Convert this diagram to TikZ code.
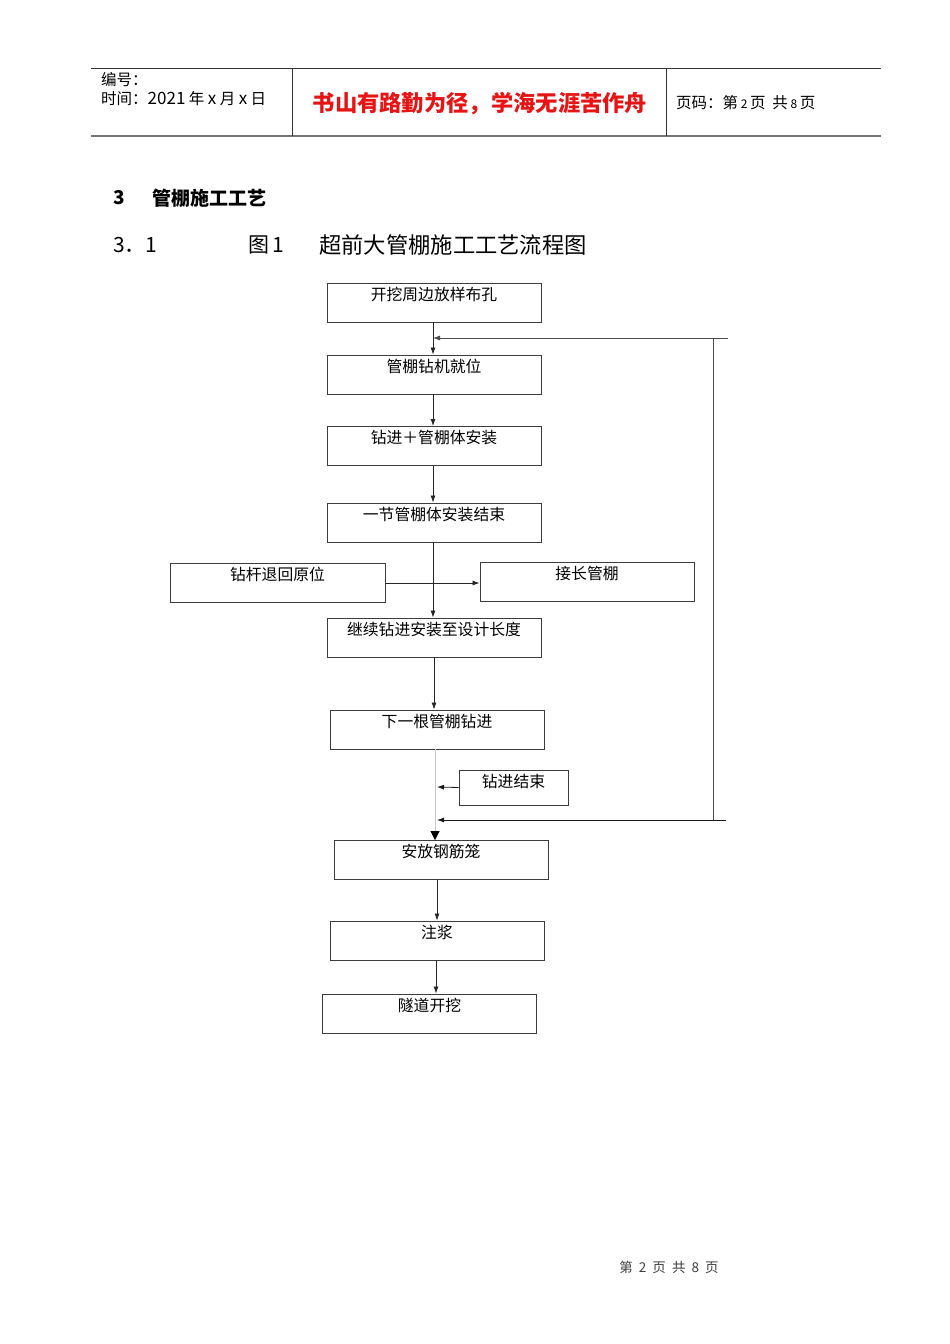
\documentclass[tikz,border=0pt]{standalone}
\usepackage{fontspec}
\setmainfont{Noto Sans CJK SC}
\newfontfamily\cjk{Noto Sans CJK SC}
\usetikzlibrary{arrows.meta}
\definecolor{redtxt}{RGB}{230,20,20}
\definecolor{boxline}{RGB}{60,60,60}
\tikzset{
  box/.style={draw=boxline, line width=0.9pt, minimum width=214pt, minimum height=39pt, inner sep=0pt},
  bl/.style={anchor=north, yshift=-4pt, inner sep=0pt, font=\fontsize{15.8}{17}\selectfont},
  tip/.style={-{Latex[length=7pt,width=5pt]}},
  flow/.style={draw=black!85, line width=0.8pt, tip},
  plain/.style={draw=black!70, line width=0.8pt},
  hdr/.style={inner sep=0pt, anchor=west, font=\fontsize{15.5}{17}\selectfont},
}
\begin{document}
\begin{tikzpicture}[x=1pt,y=-1pt]
\useasboundingbox[fill=white] (0,0) rectangle (950,1344);
% header
\draw[black!80, line width=1pt] (91,68) -- (881,68);
\draw[black!55, line width=1.6pt] (91,136) -- (881,136);
\draw[black!80, line width=0.9pt] (292,68) -- (292,136);
\draw[black!80, line width=0.9pt] (666,68) -- (666,136);
\node[hdr] (h1) at (101,80) {编号：};
\node[hdr] (h2) at (101,99) {时间：{\fontsize{17}{18}\selectfont 2021}\ 年\ {\fontsize{17}{18}\selectfont x}\ 月\ {\fontsize{17}{18}\selectfont x}\ 日};
\node[inner sep=0pt, text=redtxt, font=\fontsize{22.3}{24}\selectfont\bfseries] (h3) at (480,104) {书山有路勤为径，学海无涯苦作舟};
\node[hdr] (h4) at (676,103) {页码：第\,{\fontsize{12}{13}\selectfont 2}\,页\ \ 共\,{\fontsize{12}{13}\selectfont 8}\,页};
% section titles
\node[hdr, font=\fontsize{19}{21}\selectfont\bfseries] (s1) at (113,198) {3};
\node[hdr, font=\fontsize{19}{21}\selectfont\bfseries] (s1b) at (152,198) {管棚施工工艺};
\node[hdr, font=\fontsize{21}{23}\selectfont] (s2) at (113,245) {3．1};
\node[hdr, font=\fontsize{21}{23}\selectfont] (s3) at (248,245) {图\,1};
\node[hdr, font=\fontsize{22.3}{24}\selectfont] (s3b) at (319,245) {超前大管棚施工工艺流程图};
% boxes
\node[box, label={[bl]north:开挖周边放样布孔}] (b1) at (434,302.5) {};
\node[box, label={[bl]north:管棚钻机就位}] (b2) at (434,374.5) {};
\node[box, label={[bl]north:钻进＋管棚体安装}] (b3) at (434,446) {};
\node[box, label={[bl]north:一节管棚体安装结束}] (b4) at (434,522.5) {};
\node[box, minimum width=215pt, label={[bl]north:钻杆退回原位}] (b5) at (277.5,582.5) {};
\node[box, label={[bl]north:接长管棚}] (b6) at (587,581.5) {};
\node[box, label={[bl]north:继续钻进安装至设计长度}] (b7) at (434,637.5) {};
\node[box, label={[bl]north:下一根管棚钻进}] (b8) at (437,729.5) {};
\node[box, minimum width=109pt, minimum height=35pt, label={[bl]north:钻进结束}] (b9) at (513.5,787.5) {};
\node[box, label={[bl]north:安放钢筋笼}] (b10) at (441,860) {};
\node[box, label={[bl]north:注浆}] (b11) at (437,940.5) {};
\node[box, label={[bl]north:隧道开挖}] (b12) at (429.5,1013.5) {};
% loop coordinates
\coordinate (lt) at (728,338);
\coordinate (lm) at (713,338);
\coordinate (lb) at (713,820);
\coordinate (lbe) at (726,820);
\coordinate (jt) at (433,338);
\coordinate (jb) at (437,820);
\coordinate (jm) at (437,787);
% connectors
\draw[flow] (b1.south -| jt) -- (b2.north -| jt);
\draw[plain, tip] (lt) -- (jt);
\draw[plain] (lm) -- (lb);
\draw[plain, draw=black!90, tip] (lbe) -- (jb);
\draw[flow] (b2.south -| jt) -- (b3.north -| jt);
\draw[flow] (b3.south -| jt) -- (b4.north -| jt);
\draw[flow] (b4.south -| jt) -- (b7.north -| jt);
\draw[flow] (b5.east |- 0,583) -- (b6.west |- 0,583);
\draw[flow] (b7.south -| 434,0) -- (b8.north -| 434,0);
\draw[draw=black!22, line width=0.8pt, -{Triangle[length=9pt,width=9pt,color=black]}] (b8.south -| 435,0) -- (b10.north -| 435,0);
\draw[plain, draw=black!90, tip] (b9.west) -- (jm);
\draw[flow] (b10.south -| 437,0) -- (b11.north -| 437,0);
\draw[flow] (b11.south -| 436,0) -- (b12.north -| 436,0);
% footer
\node[inner sep=0pt, font=\fontsize{13.5}{15}\selectfont, text=black!75] (ft) at (669,1267) {第\ \ 2\ \ 页\ \ 共\ \ 8\ \ 页};
\end{tikzpicture}
\end{document}
